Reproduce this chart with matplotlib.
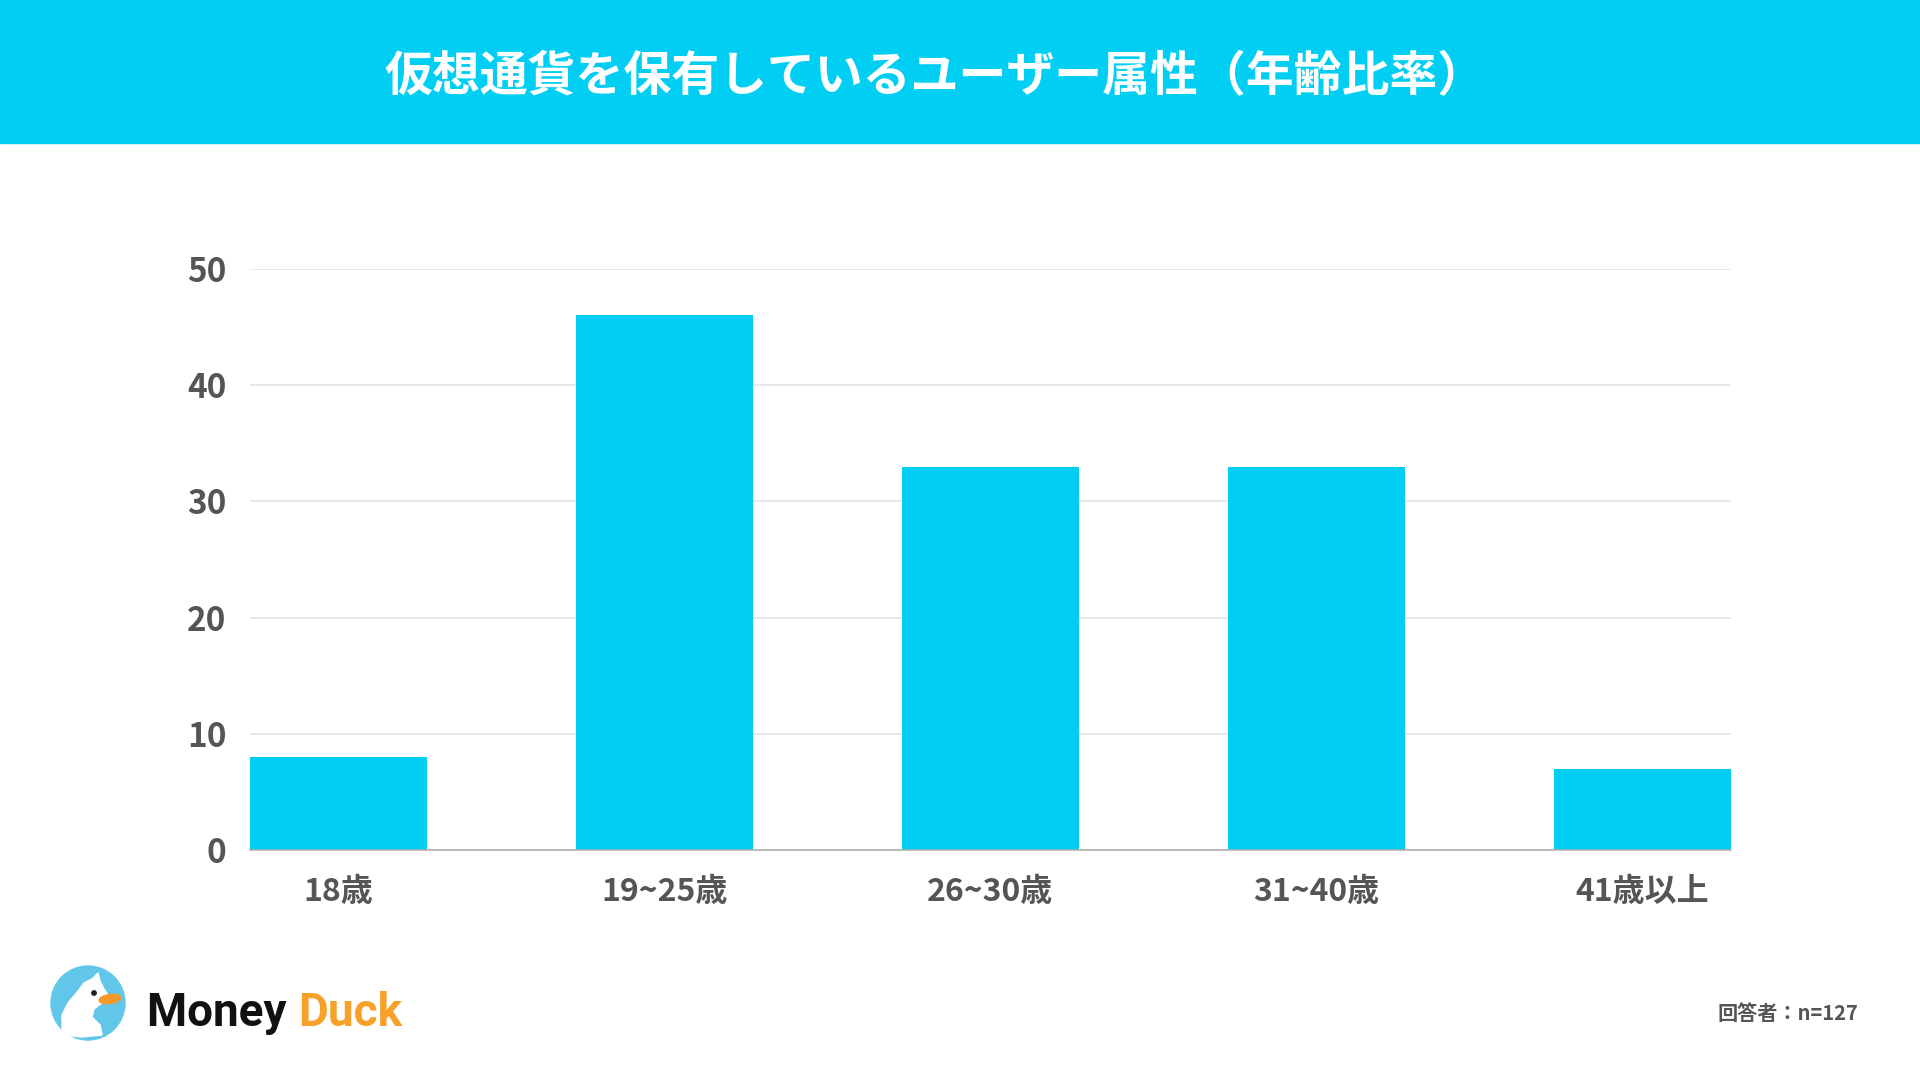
import matplotlib
matplotlib.use("Agg")
import matplotlib.pyplot as plt
from matplotlib.patches import Rectangle, Circle, Ellipse, Polygon

plt.rcParams['font.family'] = ['Noto Sans CJK JP', 'DejaVu Sans']

# データ
categories = ["18歳", "19~25歳", "26~30歳", "31~40歳", "41歳以上"]
values = [8, 46, 33, 33, 7]
yticks = [0, 10, 20, 30, 40, 50]
title = "仮想通貨を保有しているユーザー属性（年齢比率）"
note = "回答者：n=127"

BLUE = "#00CEF2"
GRAY = "#555555"

fig = plt.figure(figsize=(19.2, 10.8), dpi=100)

# ヘッダー帯
fig.patches.append(Rectangle((0, 1 - 143 / 1080), 1, 143 / 1080, transform=fig.transFigure,
                             color=BLUE, zorder=0))
fig.text(935 / 1920, 1 - 77 / 1080, title, ha="center", va="center",
         color="white", fontsize=34.5, fontweight="bold")

# グラフ本体
ax = fig.add_axes([250 / 1920, 1 - 850 / 1080, (1731 - 250) / 1920, (850 - 269) / 1080])
w = 0.544
x = list(range(len(categories)))
ax.bar(x, values, width=w, color=BLUE, zorder=2)
ax.set_xlim(-w / 2, len(categories) - 1 + w / 2)
ax.set_ylim(0, 50)
ax.set_yticks(yticks)
ax.set_xticks(x)
ax.set_xticklabels(categories)
ax.grid(axis="y", color="#e4e4e4", linewidth=1.2, zorder=0)
for s in ["top", "right", "left"]:
    ax.spines[s].set_visible(False)
ax.spines["bottom"].set_color("#b0b0b0")
ax.spines["bottom"].set_linewidth(1.2)
ax.tick_params(axis="both", length=0, colors=GRAY)
ax.tick_params(axis="y", pad=17, labelsize=24)
ax.tick_params(axis="x", pad=19, labelsize=23)
for lab in ax.get_xticklabels() + ax.get_yticklabels():
    lab.set_fontweight("bold")

# ロゴ（Money Duck）
lax = fig.add_axes([38 / 1920, 1 - 1055 / 1080, 100 / 1920, 100 / 1080])
lax.set_xlim(0, 100)
lax.set_ylim(0, 100)
lax.set_aspect("equal")
lax.axis("off")
lax.add_patch(Circle((50, 52), 37, color="#62C6EA"))
lax.add_patch(Polygon([(24, 20), (24, 40), (30, 52), (40, 64), (46, 72), (54, 76),
                       (60, 82), (62, 74), (66, 66), (70, 60), (64, 52), (56, 46),
                       (54, 38), (62, 30), (64, 20), (44, 18)],
                      closed=True, color="white"))
lax.add_patch(Ellipse((72, 56), 22, 9, angle=8, color="#F39A2B"))
lax.add_patch(Circle((56, 62), 2.2, color="#222222"))

t1 = fig.text(147 / 1920, 1 - 1013 / 1080, "Money ", ha="left", va="center",
              fontsize=33, fontweight="bold", color="#111111", family="Roboto")
fig.canvas.draw()
bb = t1.get_window_extent()
fig.text(bb.x1 / 1920, 1 - 1013 / 1080, "Duck", ha="left", va="center",
         fontsize=33, fontweight="bold", color="#F7A12B", family="Roboto")

fig.text(1858 / 1920, 1 - 1014 / 1080, note, ha="right", va="center",
         fontsize=14.5, fontweight="bold", color=GRAY)

fig.savefig("out.png", dpi=100, facecolor="white")
